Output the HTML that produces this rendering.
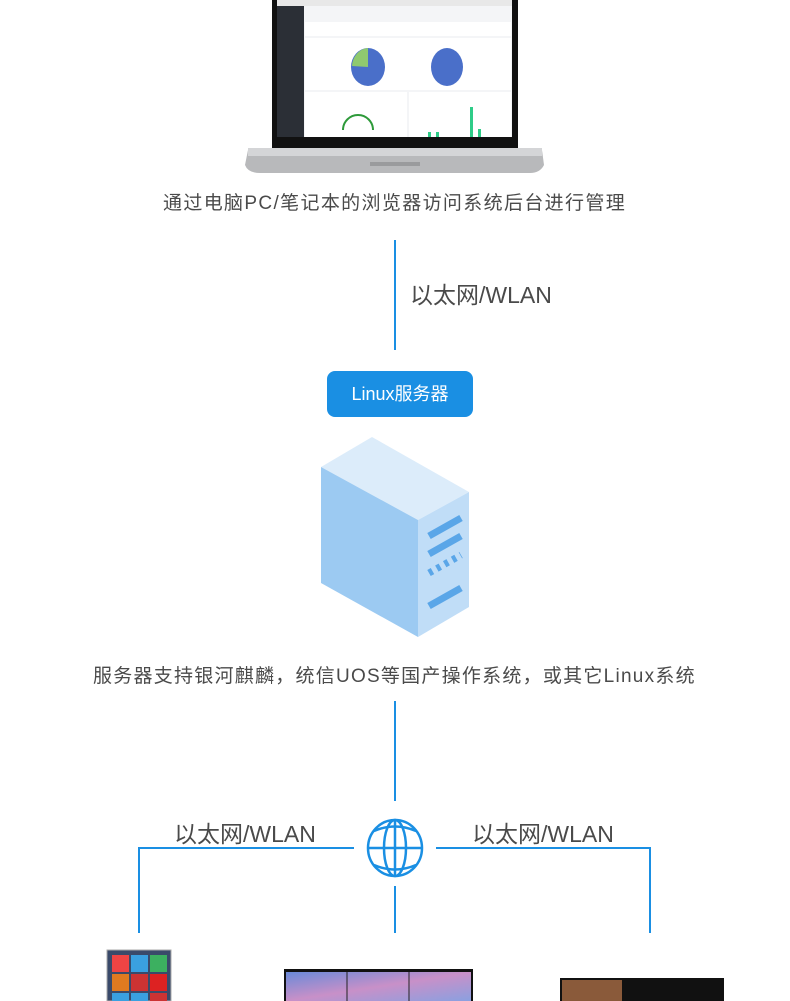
<!DOCTYPE html>
<html><head><meta charset="utf-8"><style>
body{margin:0;width:790px;height:1001px;background:#fff;position:relative;overflow:hidden;font-family:"Liberation Sans","Noto Sans CJK SC",sans-serif}
.t{position:absolute;color:#4a4a4a;white-space:nowrap}
.v{position:absolute;width:2px;background:#1a8fe3}
</style></head><body>
<svg width="790" height="1001" style="position:absolute;left:0;top:0">
<path d="M248,150 L542,150 L544,165 Q540,173 530,173 L260,173 Q248,173 245,165 Z" fill="#b8b9bb"/>
<rect x="248" y="148" width="294" height="8" fill="#d4d5d7"/>
<rect x="370" y="162" width="50" height="4" fill="#9a9b9d"/>
<rect x="272" y="0" width="246" height="148" fill="#111"/>
<rect x="277" y="0" width="235" height="137" fill="#f4f5f7"/>
<rect x="277" y="0" width="235" height="6" fill="#e8e8e8"/>
<rect x="277" y="6" width="27" height="131" fill="#2b2f36"/>
<rect x="305" y="22" width="206" height="14" fill="#fff"/>
<rect x="305" y="38" width="206" height="52" fill="#fff"/>
<rect x="305" y="92" width="102" height="45" fill="#fff"/>
<rect x="409" y="92" width="102" height="45" fill="#fff"/>
<ellipse cx="368" cy="67" rx="17" ry="19" fill="#4a6fc9"/>
<path d="M368,67 L368,48 A17,19 0 0 0 352,66 Z" fill="#8fc96f"/>
<ellipse cx="447" cy="67" rx="16" ry="19" fill="#4a6fc9"/>
<path d="M343,130 A15,15 0 1 1 373,130" fill="none" stroke="#2e9a3a" stroke-width="2"/>
<rect x="428" y="132" width="3" height="5" fill="#2ecc88"/><rect x="436" y="132" width="3" height="5" fill="#2ecc88"/>
<rect x="470" y="107" width="3" height="30" fill="#2ecc88"/><rect x="478" y="129" width="3" height="8" fill="#2ecc88"/>
<polygon points="321,467 372,437 469,492 418,520" fill="#dcecfa"/>
<polygon points="321,467 418,520 418,637 321,583" fill="#9ccaf2"/>
<polygon points="418,520 469,492 469,607 418,637" fill="#c0ddf7"/>
<g stroke="#5aa6e8" stroke-width="7">
<line x1="429" y1="536" x2="461" y2="518"/>
<line x1="429" y1="554" x2="461" y2="536"/>
<line x1="429" y1="606" x2="461" y2="588"/>
<line x1="429" y1="573" x2="461" y2="555" stroke-dasharray="4,5"/>
</g>
<path d="M139,933 V848 H354" fill="none" stroke="#1a8fe3" stroke-width="2"/>
<path d="M436,848 H650 V933" fill="none" stroke="#1a8fe3" stroke-width="2"/>
<g fill="none" stroke="#1a8fe3" stroke-width="2.5">
<ellipse cx="395" cy="848" rx="27" ry="28"/>
<ellipse cx="395" cy="848" rx="11" ry="28"/>
<line x1="395" y1="820" x2="395" y2="876"/>
<line x1="368" y1="848" x2="422" y2="848"/>
<path d="M374,831 Q395,822 416,831"/>
<path d="M374,865 Q395,874 416,865"/>
</g>
<rect x="107" y="950" width="64" height="51" fill="#3a4a6a" stroke="#aaa"/>
<rect x="112" y="955" width="17" height="17" fill="#e44"/><rect x="131" y="955" width="17" height="17" fill="#3aa0e0"/><rect x="150" y="955" width="17" height="17" fill="#3cb060"/>
<rect x="112" y="974" width="17" height="17" fill="#e07a20"/><rect x="131" y="974" width="17" height="17" fill="#c33"/><rect x="150" y="974" width="17" height="17" fill="#d22"/>
<rect x="112" y="993" width="17" height="8" fill="#3aa0e0"/><rect x="131" y="993" width="17" height="8" fill="#3aa0e0"/><rect x="150" y="993" width="17" height="8" fill="#c33"/>
<rect x="284" y="969" width="189" height="32" fill="#111"/>
<defs><linearGradient id="g1" x1="0" y1="0" x2="1" y2="1"><stop offset="0" stop-color="#6a8ad8"/><stop offset="0.5" stop-color="#c890c8"/><stop offset="1" stop-color="#8aa0e0"/></linearGradient></defs>
<rect x="286" y="972" width="185" height="29" fill="url(#g1)"/>
<line x1="347" y1="972" x2="347" y2="1001" stroke="#222"/><line x1="409" y1="972" x2="409" y2="1001" stroke="#222"/>
<rect x="560" y="978" width="164" height="23" fill="#111"/>
<rect x="562" y="980" width="60" height="21" fill="#8a5a3a"/>
</svg>
<div class="v" style="left:394px;top:240px;height:110px"></div>
<div class="v" style="left:394px;top:701px;height:100px"></div>
<div class="v" style="left:394px;top:886px;height:47px"></div>
<div class="t" style="left:163px;top:188px;font-size:19px;letter-spacing:1.35px">通过电脑PC/笔记本的浏览器访问系统后台进行管理</div>
<div class="t" style="left:410px;top:276px;font-size:23px">以太网/WLAN</div>
<div style="position:absolute;left:327px;top:371px;width:146px;height:46px;background:#1a8fe3;border-radius:8px;color:#fff;font-size:18px;line-height:46px;text-align:center">Linux服务器</div>
<div class="t" style="left:93px;top:661px;font-size:19px;letter-spacing:1.25px">服务器支持银河麒麟，统信UOS等国产操作系统，或其它Linux系统</div>
<div class="t" style="left:174px;top:815px;font-size:23px">以太网/WLAN</div>
<div class="t" style="left:472px;top:815px;font-size:23px">以太网/WLAN</div>
</body></html>
